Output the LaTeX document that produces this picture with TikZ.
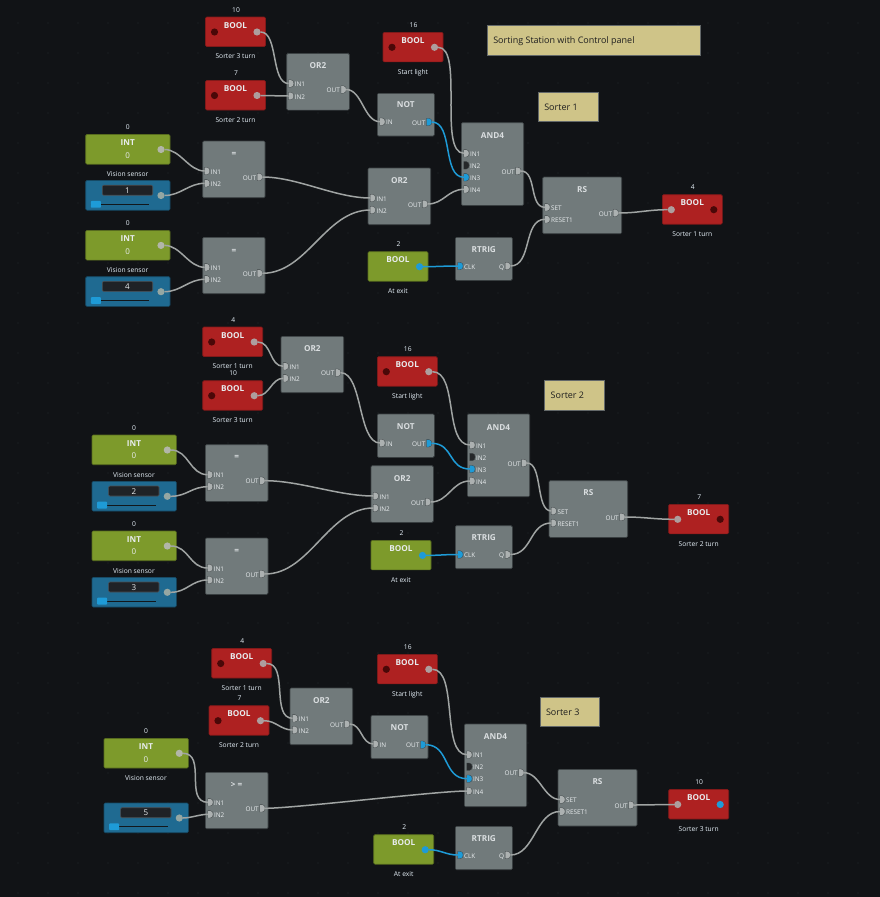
\documentclass[tikz,border=0pt]{standalone}
\usepackage{fontspec}
\setmainfont{Open Sans}
\definecolor{bgc}{HTML}{111316}
\definecolor{gridc}{HTML}{26292D}
\definecolor{redc}{HTML}{AE2121}
\definecolor{olivec}{HTML}{7D9A2B}
\definecolor{bluec}{HTML}{1F6A91}
\definecolor{grayc}{HTML}{717A7B}
\definecolor{edgec}{HTML}{3C4244}
\definecolor{notec}{HTML}{CFC488}
\definecolor{wirec}{HTML}{A0A4A3}
\definecolor{activec}{HTML}{1E9BD7}
\definecolor{pinc}{HTML}{ACB1B1}
\definecolor{pinoff}{HTML}{25282A}
\definecolor{dotoff}{HTML}{4A0808}
\definecolor{dotred}{HTML}{AE9E9E}
\definecolor{dotgr}{HTML}{B2B6A8}
\definecolor{txtc}{HTML}{E8ECEE}
\definecolor{lblc}{HTML}{E6F0F8}
\definecolor{inputc}{HTML}{1F2226}
\definecolor{trackc}{HTML}{12171B}
\tikzset{
  x=1pt,y=-1pt,
  base/.style={inner sep=0pt,outer sep=0pt,text height=1.45ex,text depth=0.25ex},
  box/.style={rectangle,anchor=north west,inner sep=0pt,outer sep=0pt,rounded corners=1.2pt,line width=.6pt},
  fblock/.style={box,fill=grayc,draw=edgec},
  redbox/.style={box,fill=redc,draw=redc!75!black},
  olivebox/.style={box,fill=olivec,draw=olivec!70!black},
  bluebox/.style={box,fill=bluec,draw=bluec!70!black},
  notebox/.style={rectangle,anchor=north west,inner sep=0pt,outer sep=0pt,fill=notec,draw=edgec!80!white,line width=.7pt},
  title/.style={base,font=\fontsize{8.2}{9}\selectfont\bfseries,text=txtc},
  caption/.style={base,font=\fontsize{6.7}{8}\selectfont,text=lblc},
  pinlabel/.style={base,font=\fontsize{6.4}{8}\selectfont,text=txtc},
  notetext/.style={base,anchor=west,font=\fontsize{9}{10}\selectfont,text=black!88},
  valtext/.style={base,font=\fontsize{8}{9}\selectfont,text=txtc},
  portdot/.style={circle,inner sep=0pt,outer sep=0pt,minimum size=7.2pt},
  wire/.style={draw=wirec,line width=1.5pt},
  live/.style={draw=activec,line width=1.5pt},
}
% grey function block
\newcommand{\fbk}[7]{\node[fblock,minimum width=#4pt,minimum height=#5pt] (#1) at (#2,#3) {};
  \node[title,text=txtc!88!grayc] (#1-t) at ([xshift=#4pt/2,yshift=-#7pt]#1.north west) {#6};}
% pin: name, x, y, label, colour
\newcommand{\ipin}[5]{\begin{scope}[shift={(#2,#3)}]
  \fill[#5,draw=edgec,line width=.3pt] (-2.5,-3.7) -- (0,-3.7) .. controls (3.8,-3.7) and (3.8,3.7) .. (0,3.7) -- (-2.5,3.7) -- cycle;
  \coordinate (#1) at (-2.4,0);
  \node[pinlabel,anchor=west] (#1-l) at (3.8,0) {#4};
\end{scope}}
\newcommand{\opin}[5]{\begin{scope}[shift={(#2,#3)}]
  \fill[#5,draw=edgec,line width=.3pt] (-2.5,-3.7) -- (0,-3.7) .. controls (3.8,-3.7) and (3.8,3.7) .. (0,3.7) -- (-2.5,3.7) -- cycle;
  \coordinate (#1) at (2.7,0);
  \node[pinlabel,anchor=east] (#1-l) at (-3.6,0) {#4};
\end{scope}}
% boolean lamp: name,x,y,style,number,caption,leftdot,rightdot
\newcommand{\lampb}[8]{\begin{scope}[shift={(#2,#3)}]
  \node[#4,minimum width=60pt,minimum height=29.5pt] (#1) at (0,0) {};
  \node[title] (#1-t) at (30,8) {BOOL};
  \node[caption] (#1-n) at (30.5,-8) {#5};
  \node[caption] (#1-c) at (30,38.5) {#6};
  \node[portdot,fill=#7] (#1-a) at (9,15) {};
  \node[portdot,fill=#8] (#1-b) at (51.5,15) {};
\end{scope}}
% int lamp: name,x,y
\newcommand{\intb}[3]{\begin{scope}[shift={(#2,#3)}]
  \node[olivebox,minimum width=84.3pt,minimum height=29.7pt] (#1) at (0,0) {};
  \node[title] (#1-t) at (42,8) {INT};
  \node[valtext] (#1-v) at (42,20.5) {0};
  \node[caption] (#1-n) at (42,-8) {0};
  \node[caption] (#1-c) at (42,39) {Vision sensor};
  \node[portdot,fill=dotgr] (#1-b) at (75.3,15) {};
\end{scope}}
% slider: name,x,y,value
\newcommand{\slideb}[4]{\begin{scope}[shift={(#2,#3)}]
  \node[bluebox,minimum width=84.3pt,minimum height=29.7pt] (#1) at (0,0) {};
  \node[box,fill=inputc,draw=inputc!80!white,minimum width=50.4pt,minimum height=10pt] (#1-i) at (16.6,4.7) {};
  \node[valtext] (#1-v) at (41.8,9.7) {#4};
  \draw[trackc,line width=1pt] (5,23.8) -- (63.5,23.8);
  \fill[activec,rounded corners=.8pt] (5.2,20.4) rectangle (15.2,27.2);
  \node[portdot,fill=dotgr!80!bluec] (#1-b) at (75.3,15) {};
\end{scope}}
\newcommand{\wlink}[4][wire]{\draw[#1] (#2) .. controls +(#4,0) and +(-#4,0) .. (#3);}
\newcommand{\noteb}[6]{\node[notebox,minimum width=#4pt,minimum height=#5pt] (#1) at (#2,#3) {};
  \node[notetext] (#1-t) at ([xshift=6pt]#1.west) {#6};}

\begin{document}
\begin{tikzpicture}
\path[use as bounding box,fill=bgc] (0,0) rectangle (880,897);
\foreach \i in {0,...,28}{\foreach \j in {0,...,29}{\fill[gridc] ({18+30*\i},{23+30*\j}) circle (.55);}}

%% ---------- Sorter 1 ----------
\lampb{a1}{205.5}{17}{redbox}{10}{Sorter 3 turn}{dotoff}{dotred}
\lampb{a2}{205.5}{80.5}{redbox}{7}{Sorter 2 turn}{dotoff}{dotred}
\fbk{aor}{286.7}{53.5}{62.6}{56.6}{OR2}{12}
\ipin{aor1}{291}{83.5}{IN1}{pinc}
\ipin{aor2}{291}{96}{IN2}{pinc}
\opin{aoro}{343.5}{89.5}{OUT}{pinc}
\intb{ai1}{85.7}{134.5}
\slideb{as1}{85.7}{180.5}{1}
\intb{ai2}{85.7}{230.4}
\slideb{as2}{85.7}{276.7}{4}
\fbk{aeq1}{202.7}{141}{62.3}{56.7}{=}{12.5}
\ipin{aeq1a}{207}{171}{IN1}{pinc}
\ipin{aeq1b}{207}{183.3}{IN2}{pinc}
\opin{aeq1o}{259.7}{177}{OUT}{pinc}
\fbk{aeq2}{202.7}{237.3}{62.3}{56.4}{=}{12.5}
\ipin{aeq2a}{207}{267.3}{IN1}{pinc}
\ipin{aeq2b}{207}{279.3}{IN2}{pinc}
\opin{aeq2o}{259.7}{273.3}{OUT}{pinc}
\lampb{a3}{383}{32.3}{redbox}{16}{Start light}{dotoff}{dotred}
\fbk{anot}{377.3}{93.3}{57}{42.7}{NOT}{11}
\ipin{anoti}{382.3}{121.7}{IN}{pinc}
\opin{anoto}{429}{122}{OUT}{activec}
\fbk{aor3}{368}{168}{62.7}{56.7}{OR2}{12}
\ipin{aor3a}{372.7}{198}{IN1}{pinc}
\ipin{aor3b}{372.7}{210}{IN2}{pinc}
\opin{aor3o}{425}{204}{OUT}{pinc}
\fbk{aand}{461.3}{122.7}{62.4}{82.6}{AND4}{12.5}
\ipin{aand1}{466.3}{153.3}{IN1}{pinc}
\ipin{aand2}{466.3}{165.3}{IN2}{pinoff}
\ipin{aand3}{466.3}{177.3}{IN3}{activec}
\ipin{aand4}{466.3}{189.3}{IN4}{pinc}
\opin{aando}{518.3}{171}{OUT}{pinc}
\fbk{ars}{542.7}{177}{79}{56.7}{RS}{12}
\ipin{arss}{547.3}{207.3}{SET}{pinc}
\ipin{arsr}{547.3}{219.3}{RESET1}{pinc}
\opin{arso}{615.7}{213}{OUT}{pinc}
\lampb{a4}{662.3}{194.7}{redbox}{4}{Sorter 1 turn}{dotred}{dotoff}
\lampb{a5}{368}{251.7}{olivebox}{2}{At exit}{none}{activec}
\fbk{art}{455.3}{237.3}{57}{43}{RTRIG}{11.7}
\ipin{artc}{460.3}{266}{CLK}{activec}
\opin{artq}{507.7}{266}{Q}{pinc}
\noteb{ntitle}{487.3}{25.7}{213.4}{29.3}{Sorting Station with Control panel}
\noteb{n1}{538.3}{92.3}{60}{29.4}{Sorter 1}
\wlink{a1-b.east}{aor1}{18}
\wlink{a2-b.east}{aor2}{10}
\wlink{aoro}{anoti}{16}
\wlink{ai1-b.east}{aeq1a}{16}
\wlink{as1-b.east}{aeq1b}{16}
\wlink{ai2-b.east}{aeq2a}{16}
\wlink{as2-b.east}{aeq2b}{16}
\wlink{aeq1o}{aor3a}{35}
\wlink{aeq2o}{aor3b}{45}
\wlink{a3-b.east}{aand1}{26}
\wlink[live]{anoto}{aand3}{22}
\wlink{aor3o}{aand4}{16}
\wlink{aando}{arss}{16}
\wlink{artq}{arsr}{22}
\wlink{arso}{a4-a.west}{20}
\wlink[live]{a5-b.east}{artc}{14}

%% ---------- Sorter 2 ----------
\lampb{b1}{202.7}{327}{redbox}{4}{Sorter 1 turn}{dotoff}{dotred}
\lampb{b2}{202.7}{380.7}{redbox}{10}{Sorter 3 turn}{dotoff}{dotred}
\fbk{bor}{281}{336.3}{62.7}{56.4}{OR2}{12}
\ipin{bor1}{285.7}{366.3}{IN1}{pinc}
\ipin{bor2}{285.7}{378.3}{IN2}{pinc}
\opin{boro}{338}{372.7}{OUT}{pinc}
\intb{bi1}{92}{435}
\slideb{bs1}{92}{481.3}{2}
\intb{bi2}{92}{531}
\slideb{bs2}{92}{577.3}{3}
\fbk{beq1}{205.3}{444.7}{62.7}{56.6}{=}{12}
\ipin{beq1a}{210}{474.7}{IN1}{pinc}
\ipin{beq1b}{210}{486.7}{IN2}{pinc}
\opin{beq1o}{262.3}{480.7}{OUT}{pinc}
\fbk{beq2}{205.3}{538}{62.7}{56.3}{=}{12}
\ipin{beq2a}{210}{568}{IN1}{pinc}
\ipin{beq2b}{210}{580}{IN2}{pinc}
\opin{beq2o}{262.3}{574}{OUT}{pinc}
\lampb{b3}{377.3}{356.7}{redbox}{16}{Start light}{dotoff}{dotred}
\fbk{bnot}{377.3}{414}{57}{43.3}{NOT}{12}
\ipin{bnoti}{382.3}{443}{IN}{pinc}
\opin{bnoto}{429}{443.3}{OUT}{activec}
\fbk{bor3}{371}{465.7}{62.3}{56.6}{OR2}{12.3}
\ipin{bor3a}{375.7}{496}{IN1}{pinc}
\ipin{bor3b}{375.7}{508}{IN2}{pinc}
\opin{bor3o}{428}{502}{OUT}{pinc}
\fbk{band}{467.3}{414}{62.4}{82.7}{AND4}{13}
\ipin{band1}{472.3}{445}{IN1}{pinc}
\ipin{band2}{472.3}{457}{IN2}{pinoff}
\ipin{band3}{472.3}{469}{IN3}{activec}
\ipin{band4}{472.3}{481}{IN4}{pinc}
\opin{bando}{524.3}{463}{OUT}{pinc}
\fbk{brs}{549}{480.7}{78.7}{56.6}{RS}{11.5}
\ipin{brss}{553.7}{511}{SET}{pinc}
\ipin{brsr}{553.7}{523}{RESET1}{pinc}
\opin{brso}{622.3}{517}{OUT}{pinc}
\lampb{b4}{668.7}{504.3}{redbox}{7}{Sorter 2 turn}{dotred}{dotoff}
\lampb{b5}{371}{540.4}{olivebox}{2}{At exit}{none}{activec}
\fbk{brt}{455.3}{525.7}{57}{43}{RTRIG}{11.5}
\ipin{brtc}{460.3}{554.5}{CLK}{activec}
\opin{brtq}{507.7}{554.5}{Q}{pinc}
\noteb{n2}{544.7}{380.7}{60}{29.6}{Sorter 2}
\wlink{b1-b.east}{bor1}{14}
\wlink{b2-b.east}{bor2}{12}
\wlink{boro}{bnoti}{22}
\wlink{bi1-b.east}{beq1a}{18}
\wlink{bs1-b.east}{beq1b}{16}
\wlink{bi2-b.east}{beq2a}{18}
\wlink{bs2-b.east}{beq2b}{16}
\wlink{beq1o}{bor3a}{35}
\wlink{beq2o}{bor3b}{45}
\wlink{b3-b.east}{band1}{26}
\wlink[live]{bnoto}{band3}{22}
\wlink{bor3o}{band4}{18}
\wlink{bando}{brss}{16}
\wlink{brtq}{brsr}{22}
\wlink{brso}{b4-a.west}{20}
\wlink[live]{b5-b.east}{brtc}{14}

%% ---------- Sorter 3 ----------
\lampb{c1}{211.7}{648.5}{redbox}{4}{Sorter 1 turn}{dotoff}{dotred}
\lampb{c2}{209}{705.7}{redbox}{7}{Sorter 2 turn}{dotoff}{dotred}
\fbk{cor}{290}{688}{62.7}{56.7}{OR2}{12}
\ipin{cor1}{295}{718.3}{IN1}{pinc}
\ipin{cor2}{295}{730}{IN2}{pinc}
\opin{coro}{347}{724}{OUT}{pinc}
\intb{ci1}{104}{738.3}
\slideb{cs1}{104}{803}{5}
\fbk{cge}{205.3}{772.3}{62.7}{56.4}{> =}{12.2}
\ipin{cgea}{210.3}{802.3}{IN1}{pinc}
\ipin{cgeb}{210.3}{814.3}{IN2}{pinc}
\opin{cgeo}{262.3}{808.3}{OUT}{pinc}
\lampb{c3}{377.3}{654.3}{redbox}{16}{Start light}{dotoff}{dotred}
\fbk{cnot}{371}{715.3}{57}{43.4}{NOT}{11.7}
\ipin{cnoti}{375.7}{744}{IN}{pinc}
\opin{cnoto}{423}{744.7}{OUT}{activec}
\fbk{cand}{464.3}{724}{62.4}{82.7}{AND4}{12}
\ipin{cand1}{469.3}{754.7}{IN1}{pinc}
\ipin{cand2}{469.3}{766.7}{IN2}{pinoff}
\ipin{cand3}{469.3}{778.7}{IN3}{activec}
\ipin{cand4}{469.3}{791}{IN4}{pinc}
\opin{cando}{521.3}{772.7}{OUT}{pinc}
\fbk{crs}{558}{769.3}{79}{56.7}{RS}{11.7}
\ipin{crss}{562.3}{799.5}{SET}{pinc}
\ipin{crsr}{562.3}{811.5}{RESET1}{pinc}
\opin{crso}{631.3}{805}{OUT}{pinc}
\lampb{c4}{668.7}{789.5}{redbox}{10}{Sorter 3 turn}{dotred}{activec}
\lampb{c5}{373.7}{834.7}{olivebox}{2}{At exit}{none}{activec}
\fbk{crt}{455.3}{826.3}{57}{43.4}{RTRIG}{11.7}
\ipin{crtc}{460.3}{855}{CLK}{activec}
\opin{crtq}{507.7}{855}{Q}{pinc}
\noteb{n3}{540}{697.3}{59.7}{29.4}{Sorter 3}
\wlink{c1-b.east}{cor1}{22}
\wlink{c2-b.east}{cor2}{12}
\wlink{coro}{cnoti}{12}
\wlink{ci1-b.east}{cgea}{24}
\wlink{cs1-b.east}{cgeb}{8}
\wlink{cgeo}{cand4}{30}
\wlink{c3-b.east}{cand1}{26}
\wlink[live]{cnoto}{cand3}{24}
\wlink{cando}{crss}{16}
\wlink{crtq}{crsr}{24}
\wlink{crso}{c4-a.west}{12}
\wlink[live]{c5-b.east}{crtc}{12}
\end{tikzpicture}
\end{document}
